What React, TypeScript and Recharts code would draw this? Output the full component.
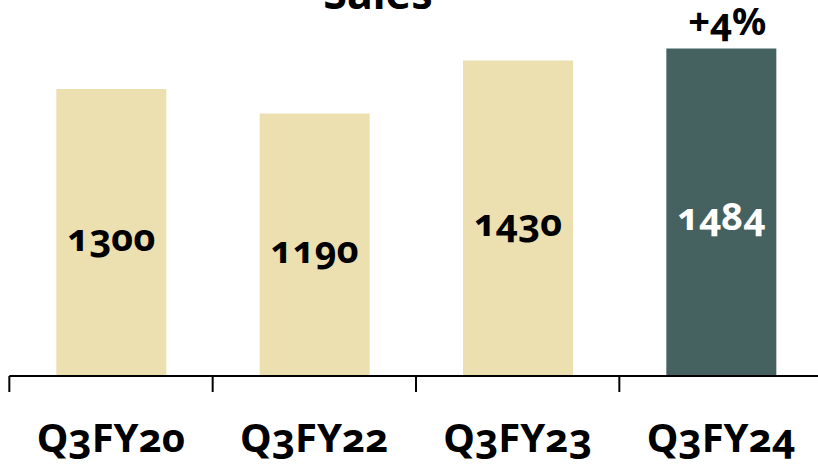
import React from 'react';
import { BarChart, Bar, XAxis, YAxis, Cell, LabelList } from 'recharts';

const categories = ['Q3FY20', 'Q3FY22', 'Q3FY23', 'Q3FY24'];
const sales = [1300, 1190, 1430, 1484];
const growth = ['', '', '', '+4%'];
const barColors = ['#ECDFB0', '#ECDFB0', '#ECDFB0', '#466260'];
const labelColors = ['#000000', '#000000', '#000000', '#FFFFFF'];

const data = categories.map((c, i) => ({ name: c, value: sales[i], growth: growth[i] }));

const FONT = '"Noto Sans", "Open Sans", sans-serif';

const CustomTick = (props: any) => {
  const { x, y, payload } = props;
  const off = payload && typeof payload.offset === 'number' && payload.offset > 0 ? payload.offset : 101.67;
  return (
    <g>
      <line x1={x - off} y1={y} x2={x - off} y2={y + 16} stroke="#000" strokeWidth={2} />
      <text
        x={x}
        y={y + 76}
        textAnchor="middle"
        fontFamily={FONT}
        fontWeight={700}
        fontSize={40}
        fill="#000"
        style={{ fontVariantNumeric: 'oldstyle-nums' }}
      >
        {payload.value}
      </text>
    </g>
  );
};

const ValueLabel = (props: any) => {
  const { x, y, width, height, value, index } = props;
  return (
    <text
      x={x + width / 2}
      y={y + height / 2 + 18}
      textAnchor="middle"
      fontFamily={FONT}
      fontWeight={700}
      fontSize={38}
      fill={labelColors[index]}
      style={{ fontVariantNumeric: 'oldstyle-nums' }}
    >
      {value}
    </text>
  );
};

const GrowthLabel = (props: any) => {
  const { x, y, width, value } = props;
  if (!value) return null;
  return (
    <text
      x={x + width / 2 + 6}
      y={y - 14}
      textAnchor="middle"
      fontFamily={FONT}
      fontWeight={700}
      fontSize={38}
      fill="#000"
      style={{ fontVariantNumeric: 'oldstyle-nums' }}
    >
      {value}
    </text>
  );
};

export default function App() {
  return (
    <div style={{ position: 'absolute', left: 0, top: 0, width: 818, height: 467, overflow: 'hidden', background: '#fff' }}>
      <BarChart
        width={830}
        height={467}
        data={data}
        margin={{ top: 22.9, right: 7.33, left: 9.33, bottom: 0 }}
      >
        <XAxis
          dataKey="name"
          height={91}
          axisLine={{ stroke: '#000', strokeWidth: 2 }}
          tickLine={false}
          tickSize={0}
          tickMargin={0}
          interval={0}
          tick={<CustomTick />}
        />
        <YAxis hide domain={[0, 1600]} />
        <Bar dataKey="value" barSize={110} isAnimationActive={false}>
          {data.map((d, i) => (
            <Cell key={d.name} fill={barColors[i]} />
          ))}
          <LabelList dataKey="value" content={<ValueLabel />} />
          <LabelList dataKey="growth" content={<GrowthLabel />} />
        </Bar>
      </BarChart>
      <svg style={{ position: 'absolute', left: 0, top: 0 }} width={818} height={40}>
        <text x={378} y={9} textAnchor="middle" fontFamily={FONT} fontWeight={700} fontSize={43} fill="#000">
          Sales
        </text>
      </svg>
    </div>
  );
}
